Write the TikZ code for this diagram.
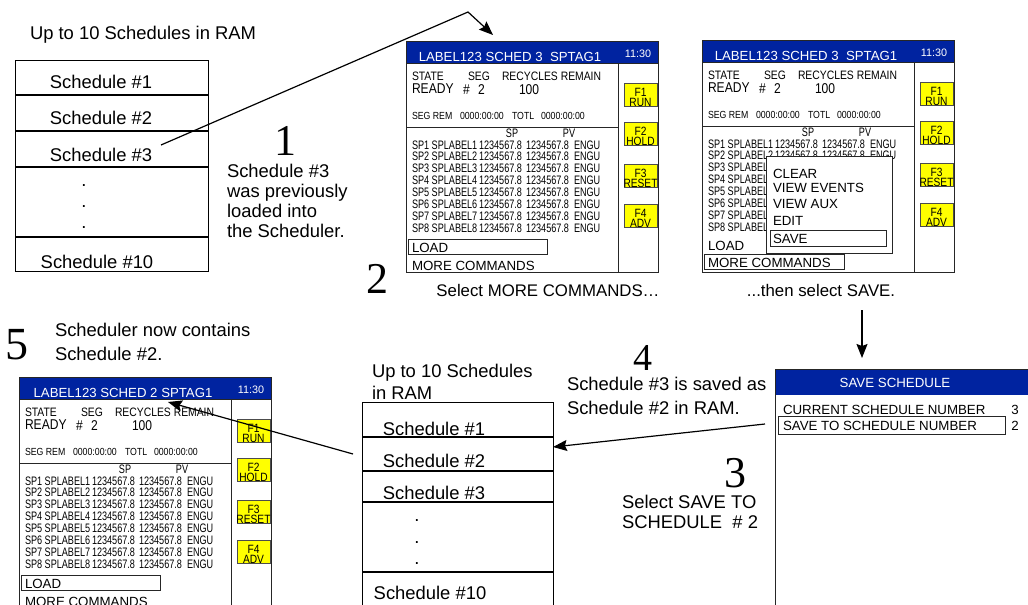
\documentclass[tikz,border=0pt]{standalone}
\usepackage{fontspec}
\setmainfont{Liberation Sans}
\newfontfamily\narA[FakeStretch=0.85]{Liberation Sans}
\newfontfamily\narB[FakeStretch=0.74]{Liberation Sans}
\newfontfamily\tms{Liberation Serif}
\usetikzlibrary{arrows.meta}
\definecolor{hdrblue}{RGB}{0,35,160}
\definecolor{fyel}{RGB}{255,255,0}
\newcommand\fs[1]{\fontsize{#1}{#1}\selectfont}
\tikzset{
  txt/.style={anchor=base west, inner sep=0pt, outer sep=0pt},
  ctxt/.style={anchor=base, inner sep=0pt, outer sep=0pt},
  big/.style={txt, font=\fs{18.4}},
  bigc/.style={ctxt, font=\fs{16.8}},
  digit/.style={ctxt, font=\tms\fs{44}},
  frame/.style={draw=black!85, line width=0.9pt},
  divider/.style={draw=black, line width=1.8pt},
  fbtn/.style={fill=fyel, draw=black!70, line width=0.7pt},
  conn/.style={line width=1.2pt},
  arr/.style={conn, -{Stealth[length=14pt,width=11pt,inset=2pt]}},
  row/.style={txt, font=\narB\fs{12.3}},
  scr/.style={txt, font=\fs{13.3}},
  selbox/.style={draw=black!85, line width=0.8pt},
}
% #1 x, #2 y, #3 height, #4 title, #5 prefix, #6 mode (0: LOAD selected, 1: popup menu)
\newcommand\drawscreen[6]{%
\begin{scope}[shift={(#1,#2)}]
  \fill[hdrblue] (0,0) rectangle (252,22);
  \node[ctxt, font=\fs{13.2}, text=white] (#5-title) at (104,20) {#4};
  \node[ctxt, font=\fs{10.8}, text=white] (#5-time) at (232,16.5) {11:30};
  \draw[frame] (0,0) rectangle (252,#3);
  \draw[frame] (0,22) -- (252,22);
  \draw[frame] (212,22) -- (212,#3);
  \draw[frame] (0,86) -- (212,86);
  \node[txt, font=\narA\fs{12.2}] (#5-state) at (6,39) {STATE};
  \node[txt, font=\narA\fs{12.2}] (#5-seg) at (62,39) {SEG};
  \node[txt, font=\narA\fs{12.2}] (#5-rec) at (96,39) {RECYCLES REMAIN};
  \node[txt, font=\narA\fs{14.2}] (#5-ready) at (6,52) {READY};
  \node[txt, font=\narA\fs{14.2}] (#5-hash) at (57,53) {\#};
  \node[txt, font=\narA\fs{14.2}] (#5-segno) at (72,53) {2};
  \node[txt, font=\narA\fs{14.2}] (#5-cnt) at (113,53) {100};
  \node[txt, font=\narA\fs{10.3}] (#5-segrem) at (6,78) {SEG REM};
  \node[txt, font=\narA\fs{10.3}] (#5-t1) at (54,78) {0000:00:00};
  \node[txt, font=\narA\fs{10.3}] (#5-totl) at (106,78) {TOTL};
  \node[txt, font=\narA\fs{10.3}] (#5-t2) at (135,78) {0000:00:00};
  \node[ctxt, font=\narB\fs{12.3}] (#5-sphd) at (106,96) {SP};
  \node[ctxt, font=\narB\fs{12.3}] (#5-pvhd) at (163,96) {PV};
  \ifnum#6=0
    \foreach \i in {1,...,8}{
      \node[row] (#5-spn\i) at (6,{108+11.86*(\i-1)}) {SP\i\ SPLABEL\i};
      \node[row] (#5-spv\i) at (73,{108+11.86*(\i-1)}) {1234567.8};
      \node[row] (#5-pvv\i) at (120,{108+11.86*(\i-1)}) {1234567.8};
      \node[row] (#5-eng\i) at (168,{108+11.86*(\i-1)}) {ENGU};
    }
  \else
    \foreach \i in {1,2}{
      \node[row] (#5-spn\i) at (6,{108+11.86*(\i-1)}) {SP\i\ SPLABEL\i};
      \node[row] (#5-spv\i) at (73,{108+11.86*(\i-1)}) {1234567.8};
      \node[row] (#5-pvv\i) at (120,{108+11.86*(\i-1)}) {1234567.8};
      \node[row] (#5-eng\i) at (168,{108+11.86*(\i-1)}) {ENGU};
    }
    \foreach \i in {3,...,8}{
      \node[row] (#5-spn\i) at (6,{108+11.86*(\i-1)}) {SP\i\ SPLABEL};
    }
  \fi
  \foreach \k/\ya/\lab in {1/42/RUN,2/81/HOLD,3/123/RESET,4/163/ADV}{
    \draw[fbtn] (218,\ya) rectangle (251,{\ya+23.5});
    \node[ctxt, font=\narA\fs{12}] (#5-f\k) at (234.5,{\ya+13}) {F\k};
    \node[ctxt, font=\narA\fs{12}] (#5-fl\k) at (234.5,{\ya+23.3}) {\lab};
  }
  \ifnum#6=0
    \draw[selbox] (2,198) rectangle (141,213);
    \node[scr] (#5-load) at (6,211) {LOAD};
    \node[scr] (#5-more) at (6,229) {MORE COMMANDS};
  \else
    \node[scr] (#5-load) at (6,210) {LOAD};
    \draw[selbox] (2,214) rectangle (142,229);
    \node[scr] (#5-more) at (6,227) {MORE COMMANDS};
    \fill[white] (64,116) rectangle (190,213);
    \draw[frame] (64,116) rectangle (190,213);
    \node[scr] (#5-m1) at (71,138) {CLEAR};
    \node[scr] (#5-m2) at (71,152) {VIEW EVENTS};
    \node[scr] (#5-m3) at (71,168) {VIEW AUX};
    \node[scr] (#5-m4) at (71,185) {EDIT};
    \draw[selbox] (68,190) rectangle (184,206);
    \node[scr] (#5-m5) at (71,203) {SAVE};
  \fi
\end{scope}}
\begin{document}
\begin{tikzpicture}[x=1pt,y=-1pt]
\useasboundingbox (0,0) rectangle (1028,605);
\clip (0,0) rectangle (1028,605);
\fill[white] (0,0) rectangle (1028,605);

% ---------- top-left list ----------
\node[big] (lbl1) at (30,39) {Up to 10 Schedules in RAM};
\draw[frame, draw=black] (15,60) rectangle (208,271);
\foreach \yy in {95,131,167,237} \draw[divider] (15,\yy) -- (208,\yy);
\node[ctxt, font=\fs{18.4}] (l1-1) at (101,88) {Schedule \#1};
\node[ctxt, font=\fs{18.4}] (l1-2) at (101,124) {Schedule \#2};
\node[ctxt, font=\fs{18.4}] (l1-3) at (101,161) {Schedule \#3};
\node[ctxt, font=\fs{18.4}] (l1-d1) at (84,186) {.};
\node[ctxt, font=\fs{18.4}] (l1-d2) at (84,207) {.};
\node[ctxt, font=\fs{18.4}] (l1-d3) at (84,228) {.};
\node[ctxt, font=\fs{18.4}] (l1-10) at (97,268) {Schedule \#10};

% step 1
\node[digit] (n1) at (285,155) {1};
\node[big] (t1a) at (227,177) {Schedule \#3};
\node[big] (t1b) at (227,197) {was previously};
\node[big] (t1c) at (227,217) {loaded into};
\node[big] (t1d) at (227,237) {the Scheduler.};

% ---------- screens ----------
\drawscreen{406}{41}{231}{LABEL123 SCHED 3\ \ SPTAG1}{s1}{0}
\drawscreen{702}{40}{232}{LABEL123 SCHED 3\ \ SPTAG1}{s2}{1}
\drawscreen{19}{377}{240}{LABEL123 SCHED 2 SPTAG1}{s3}{0}

% step 2
\node[digit] (n2) at (377,293) {2};
\node[bigc] (t2a) at (548,296) {Select MORE COMMANDS…};
\node[bigc] (t2b) at (821,296) {...then select SAVE.};

% step 5
\node[ctxt, font=\tms\fs{46}] (n5) at (17,359) {5};
\node[big] (t5a) at (55,336) {Scheduler now contains};
\node[big] (t5b) at (55,360) {Schedule \#2.};

% ---------- bottom-middle list ----------
\node[big] (lbl2a) at (372,377) {Up to 10 Schedules};
\node[big] (lbl2b) at (372,399) {in RAM};
\draw[frame, draw=black] (362,640) -- (362,402) -- (553,402) -- (553,640);
\foreach \yy in {437,471,502,572} \draw[divider] (362,\yy) -- (553,\yy);
\node[ctxt, font=\fs{18.4}] (l2-1) at (434,435) {Schedule \#1};
\node[ctxt, font=\fs{18.4}] (l2-2) at (434,467) {Schedule \#2};
\node[ctxt, font=\fs{18.4}] (l2-3) at (434,499) {Schedule \#3};
\node[ctxt, font=\fs{18.4}] (l2-d1) at (417,521) {.};
\node[ctxt, font=\fs{18.4}] (l2-d2) at (417,543) {.};
\node[ctxt, font=\fs{18.4}] (l2-d3) at (417,564) {.};
\node[ctxt, font=\fs{18.4}] (l2-10) at (430,599) {Schedule \#10};

% step 4
\node[ctxt, font=\tms\fs{38}] (n4) at (643,370) {4};
\node[big] (t4a) at (567,390) {Schedule \#3 is saved as};
\node[big] (t4b) at (567,414) {Schedule \#2 in RAM.};

% step 3
\node[digit] (n3) at (735,487) {3};
\node[big] (t3a) at (622,508) {Select SAVE TO};
\node[big] (t3b) at (622,528) {SCHEDULE\ \ \# 2};

% ---------- save schedule dialog ----------
\fill[hdrblue] (775,369) rectangle (1040,395);
\draw[frame] (775,640) -- (775,369) -- (1040,369);
\node[ctxt, font=\fs{13.3}, text=white] (dlg-title) at (895,387) {SAVE SCHEDULE};
\node[scr] (dlg-cur) at (783,414) {CURRENT SCHEDULE NUMBER};
\node[ctxt, font=\fs{13.3}] (dlg-curv) at (1015,414) {3};
\draw[selbox] (778,416) rectangle (1005,434);
\node[scr] (dlg-save) at (783,430) {SAVE TO SCHEDULE NUMBER};
\node[ctxt, font=\fs{13.3}] (dlg-savev) at (1015,430) {2};

% ---------- connectors ----------
\coordinate (c1a) at (161,145);
\coordinate (c1b) at (468,12);
\coordinate (c1c) at (493,35);
\draw[arr] (c1a) -- (c1b) -- (c1c);
\coordinate (c2a) at (862,310);
\coordinate (c2b) at (862,358);
\draw[arr] (c2a) -- (c2b);
\coordinate (c3a) at (765,424);
\coordinate (c3b) at (553,447);
\draw[arr] (c3a) -- (c3b);
\coordinate (c4a) at (353,454);
\coordinate (c4b) at (168,402);
\draw[arr] (c4a) -- (c4b);
\end{tikzpicture}
\end{document}
